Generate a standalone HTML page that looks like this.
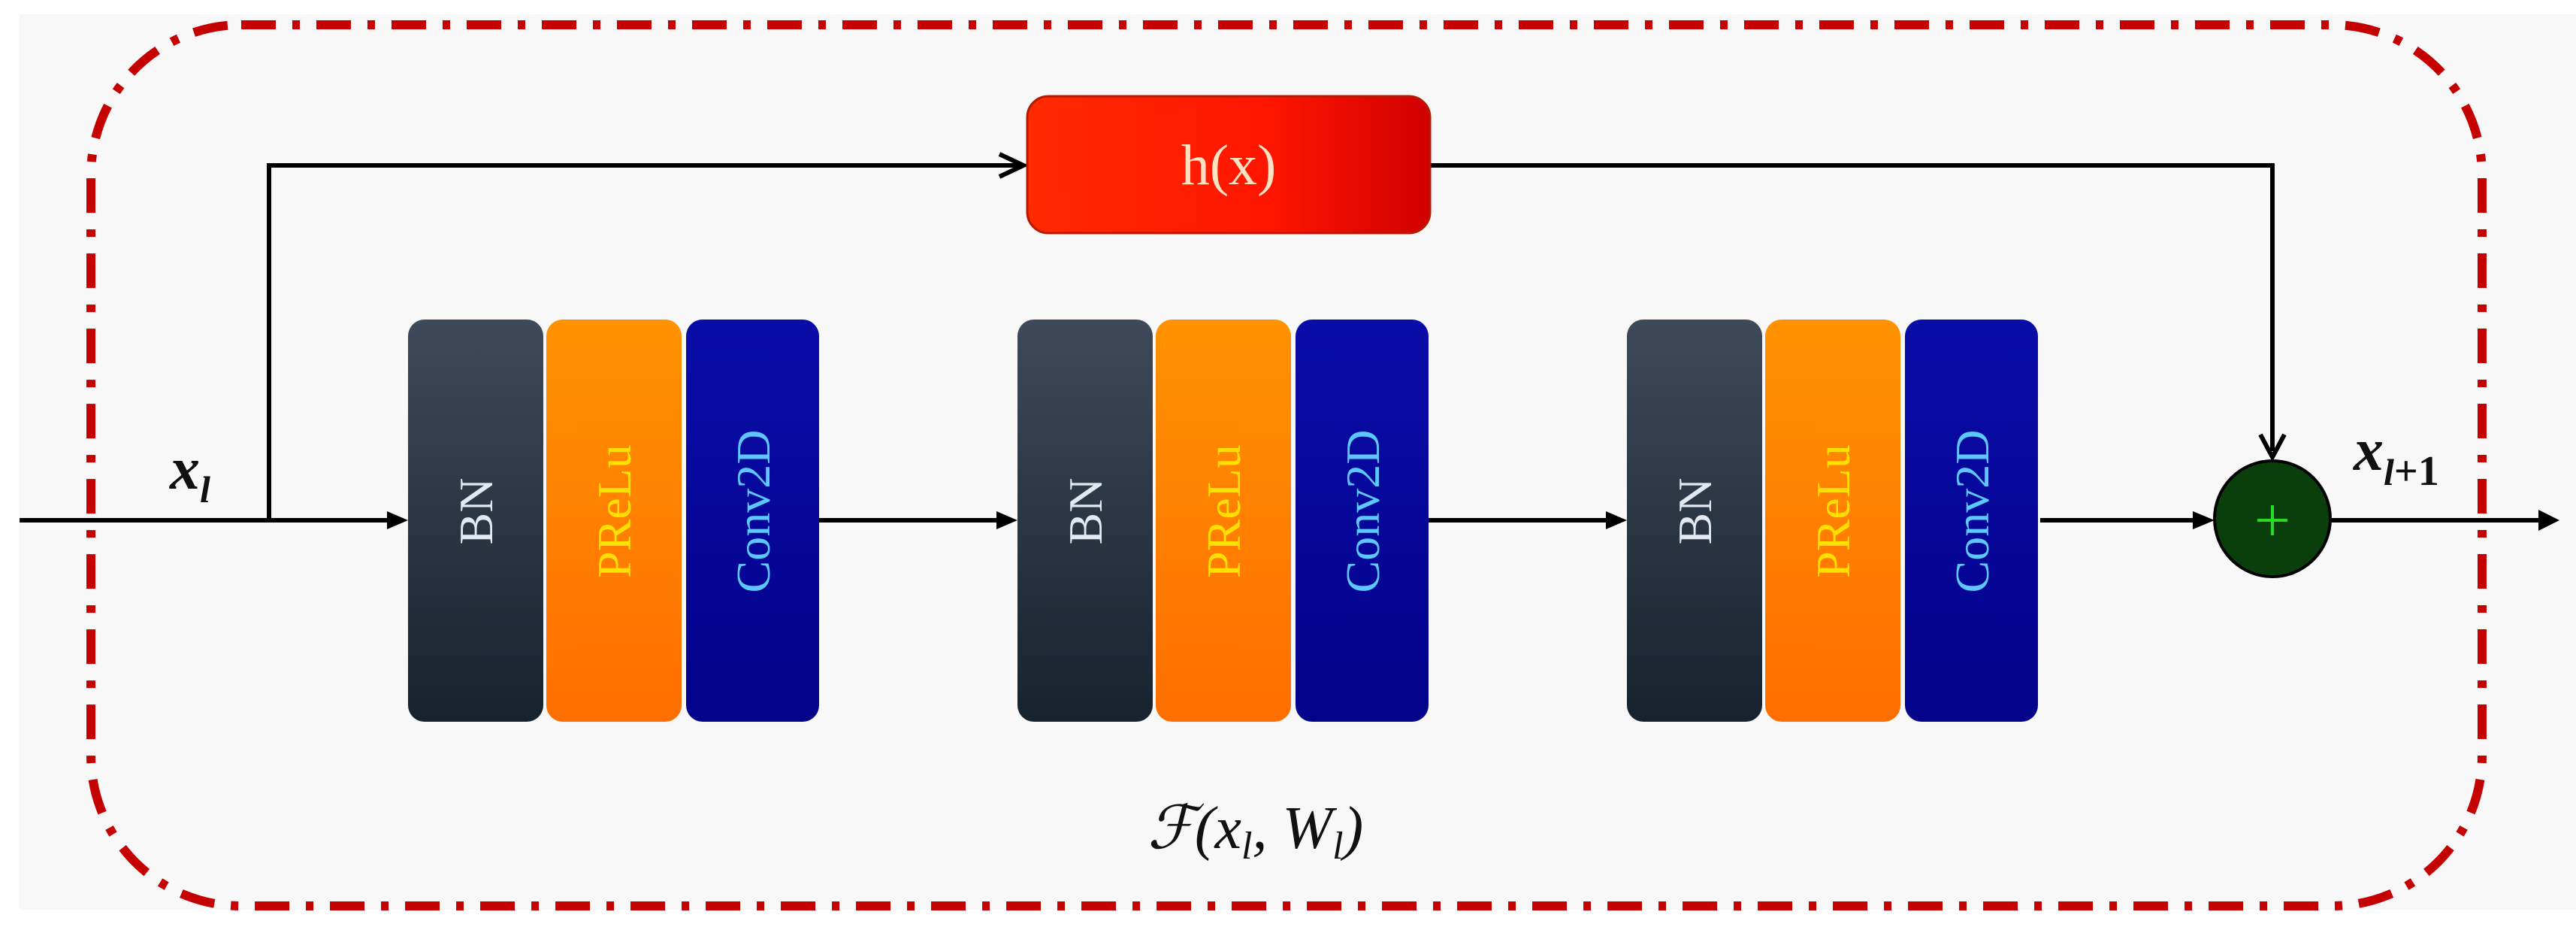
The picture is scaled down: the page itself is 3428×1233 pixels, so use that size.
<!DOCTYPE html>
<html><head><meta charset="utf-8"><style>
html,body{margin:0;padding:0;background:#fff;}
svg{display:block;}
</style></head><body>
<svg width="3428" height="1233" viewBox="0 0 3428 1233" xmlns="http://www.w3.org/2000/svg">
<defs>
<linearGradient id="bn" x1="0" y1="0" x2="0" y2="1"><stop offset="0" stop-color="#3e4a5a"/><stop offset="1" stop-color="#16222e"/></linearGradient>
<linearGradient id="pr" x1="0" y1="0" x2="0" y2="1"><stop offset="0" stop-color="#ff9200"/><stop offset="1" stop-color="#ff6e00"/></linearGradient>
<linearGradient id="cv" x1="0" y1="0" x2="0" y2="1"><stop offset="0" stop-color="#0a0ca8"/><stop offset="1" stop-color="#02028a"/></linearGradient>
<linearGradient id="hx" x1="0" y1="0" x2="1" y2="0"><stop offset="0" stop-color="#ff2a00"/><stop offset="0.6" stop-color="#ff1500"/><stop offset="1" stop-color="#d00000"/></linearGradient>
</defs>
<rect x="26" y="19" width="3402" height="1191" fill="#f8f8f8"/>
<rect x="121" y="33" width="3182" height="1172" rx="200" ry="200" fill="none" stroke="#c40000" stroke-width="12" stroke-dasharray="46 22 10 22"/>

<g stroke="#000" stroke-width="6" fill="none">
<line x1="26" y1="692" x2="520" y2="692"/>
<polyline points="358,692 358,220 1355,220"/>
<polyline points="1903,220 3024,220 3024,600"/>
<line x1="1090" y1="692" x2="1330" y2="692"/>
<line x1="1901" y1="692" x2="2141" y2="692"/>
<line x1="2715" y1="692" x2="2930" y2="692"/>
<line x1="3102" y1="692" x2="3385" y2="692"/>
<polyline points="1330,205 1362,220 1330,235"/>
<polyline points="3008,578 3024,608 3040,578"/>
</g>
<g fill="#000">
<polygon points="515,680 543,692 515,704"/>
<polygon points="1326,680 1354,692 1326,704"/>
<polygon points="2137,680 2165,692 2137,704"/>
<polygon points="2918,680 2947,692 2918,704"/>
<polygon points="3378,678 3406,692 3378,706"/>
</g>

<rect x="1367" y="128" width="536" height="182" rx="28" fill="url(#hx)" stroke="#b81800" stroke-width="3"/>
<text x="1635" y="245" font-family="Liberation Serif, serif" font-size="76" fill="#ffe2c4" text-anchor="middle">h(x)</text>

<g id="g1">
<rect x="543" y="425" width="180" height="535" rx="22" fill="url(#bn)"/>
<rect x="727" y="425" width="180" height="535" rx="22" fill="url(#pr)"/>
<rect x="913" y="425" width="177" height="535" rx="22" fill="url(#cv)"/>
<text transform="translate(655,680) rotate(-90)" font-family="Liberation Serif, serif" font-size="64" fill="#e4e8f0" text-anchor="middle">BN</text>
<text transform="translate(839,680) rotate(-90)" font-family="Liberation Serif, serif" font-size="64" fill="#ffe000" text-anchor="middle">PReLu</text>
<text transform="translate(1024,680) rotate(-90)" font-family="Liberation Serif, serif" font-size="64" fill="#5cc8ff" text-anchor="middle">Conv2D</text>
</g>
<use href="#g1" x="811" y="0"/>
<use href="#g1" x="1622" y="0"/>

<circle cx="3024" cy="690" r="77" fill="#0a3e0a" stroke="#000" stroke-width="4"/>
<line x1="3024" y1="672" x2="3024" y2="712" stroke="#22dd22" stroke-width="4"/>
<line x1="3004" y1="692" x2="3044" y2="692" stroke="#22dd22" stroke-width="4"/>

<text x="226" y="650" font-family="Liberation Serif, serif" font-style="italic" font-weight="bold" font-size="80" fill="#111">x<tspan font-size="50" dy="18">l</tspan></text>
<text x="3132" y="625" font-family="Liberation Serif, serif" font-style="italic" font-weight="bold" font-size="80" fill="#111">x<tspan font-size="50" dy="20">l</tspan><tspan font-style="normal" font-size="56">+1</tspan></text>
<text x="1527" y="1128" font-family="Liberation Serif, DejaVu Serif, serif" font-style="italic" font-size="80" fill="#111">ℱ(x<tspan font-size="52" dy="14">l</tspan><tspan dy="-14">, W</tspan><tspan font-size="52" dy="14">l</tspan><tspan dy="-14">)</tspan></text>
</svg>
</body></html>
